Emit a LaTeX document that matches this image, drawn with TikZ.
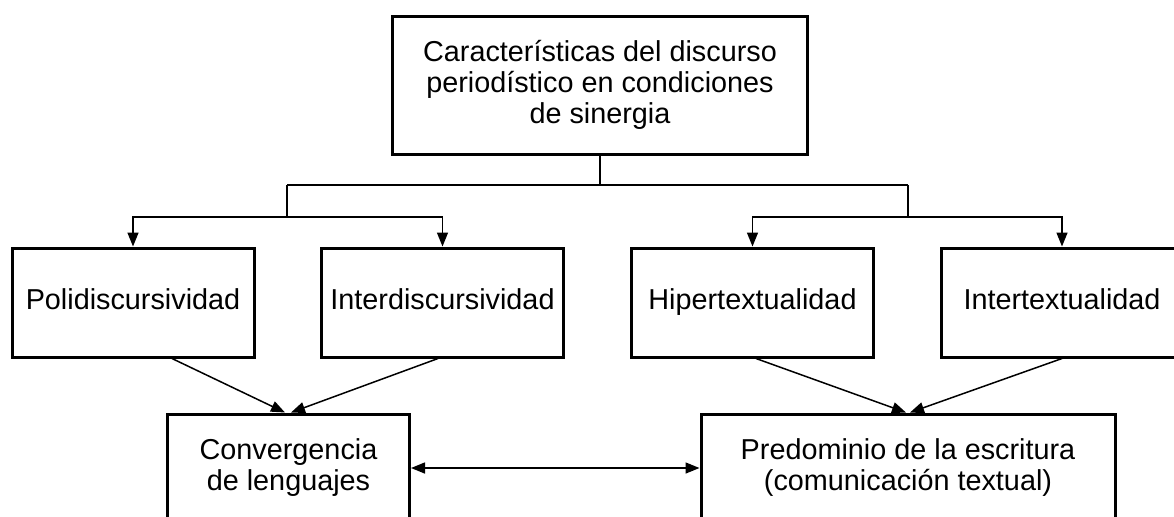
\documentclass[tikz,border=0pt]{standalone}
\usepackage{fontspec}
\setmainfont{Liberation Sans}
\usetikzlibrary{arrows.meta}
\tikzset{
  box/.style={draw, line width=1.5pt, inner sep=0pt, align=center,
    minimum width=121pt, minimum height=54.5pt,
    font=\fontsize{14.4pt}{15.5pt}\selectfont},
  onebox/.style={box, text height=10.5pt, text depth=4pt},
  conn/.style={line width=0.75pt},
  arr/.style={conn, -{Triangle[width=5.5pt,length=7pt]}},
  darr/.style={conn, {Triangle[width=5.5pt,length=7pt]}-{Triangle[width=5.5pt,length=7pt]}},
}
\begin{document}
\begin{tikzpicture}[x=0.5pt,y=-0.5pt]
        \useasboundingbox (0,0) rectangle (1174,516);
        \clip (0,0) rectangle (1174,516);

        \node[box, minimum width=207.5pt, minimum height=69pt] (top) at (600,85) {Características del discurso\\periodístico en condiciones\\de sinergia};
        \node[onebox] (poli) at (133,302.5) {Polidiscursividad};
        \node[onebox] (inter) at (442.5,302.5) {Interdiscursividad};
        \node[onebox] (hiper) at (752.5,302.5) {Hipertextualidad};
        \node[onebox] (intert) at (1062,302.5) {Intertextualidad};
        \node[box, minimum height=54pt] (conv) at (288.5,468) {Convergencia\\de lenguajes};
        \node[box, minimum width=207pt, minimum height=54pt] (pred) at (908,468) {Predominio de la escritura\\(comunicación textual)};

        \coordinate (jl) at (287,185);
        \coordinate (jr) at (908,185);
        \coordinate (low) at (0,217);

        \path[draw,conn] (top.south) -- (top.south |- jl);
        \path[draw,conn] (jl) -- (jr);
        \path[draw,arr] (jl) -- (jl |- low) -| (poli.north);
        \path[draw,arr] (jl |- low) -| (inter.north);
        \path[draw,arr] (jr) -- (jr |- low) -| (hiper.north);
        \path[draw,arr] (jr |- low) -| (intert.north);

        \path[draw,arr] ([xshift=19.5pt]poli.south) -- ([xshift=-1.75pt]conv.north);
        \path[draw,arr] ([xshift=-2.25pt]inter.south) -- ([xshift=1.25pt]conv.north);
        \path[draw,arr] ([xshift=1.75pt]hiper.south) -- ([xshift=-1pt]pred.north);
        \path[draw,arr] (intert.south) -- ([xshift=1pt]pred.north);
        \path[draw,darr] (conv.east) -- (pred.west);
    \end{tikzpicture}
\end{document}
